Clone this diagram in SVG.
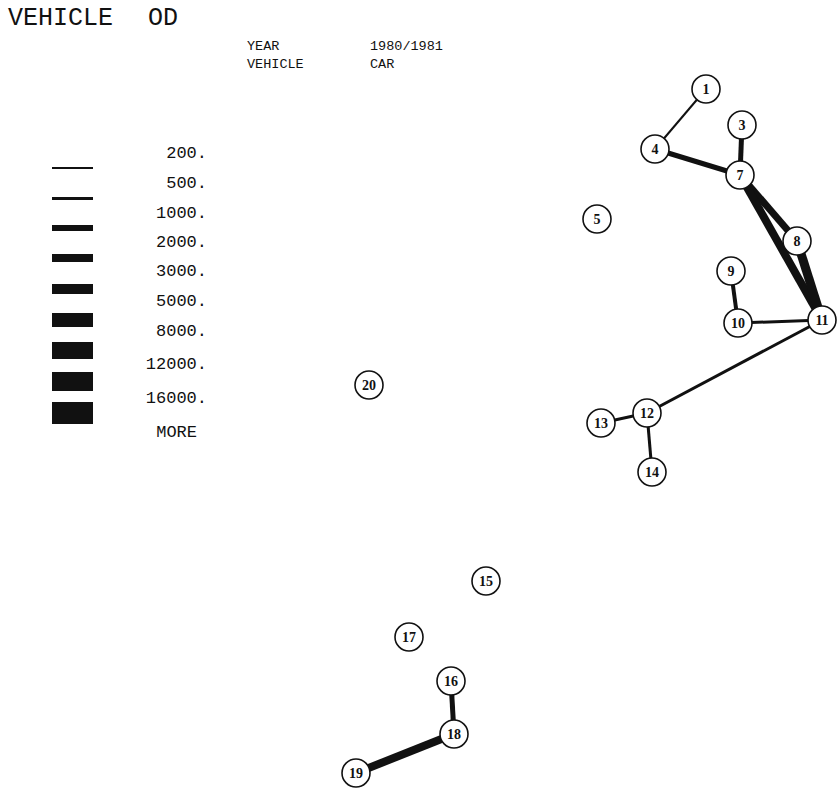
<svg xmlns="http://www.w3.org/2000/svg" width="840" height="793" viewBox="0 0 840 793">
<style>
.t{font-family:"Liberation Mono","DejaVu Sans Mono",monospace;fill:#111}
.lg{font-family:"Liberation Mono","DejaVu Sans Mono",monospace;font-size:17px;fill:#111;text-anchor:end;dominant-baseline:central}
.n circle{fill:#fff;stroke:#111;stroke-width:1.6}
.n text{font-family:"Liberation Serif","DejaVu Serif",serif;font-size:14px;font-weight:bold;fill:#111;text-anchor:middle;dominant-baseline:central}
.e line{stroke:#111;stroke-linecap:butt}
.bar{fill:#111}
</style>
<rect width="840" height="793" fill="#fff"/>
<g id="header">
<text class="t" x="8" y="25" font-size="25">VEHICLE</text>
<text class="t" x="148" y="25" font-size="25">OD</text>
<text class="t" x="247" y="50" font-size="13.5">YEAR</text>
<text class="t" x="370" y="50" font-size="13.5">1980/1981</text>
<text class="t" x="247" y="68" font-size="13.5">VEHICLE</text>
<text class="t" x="370" y="68" font-size="13.5">CAR</text>
</g>
<g id="legend">
<text class="lg" x="207" y="153">200.</text>
<text class="lg" x="207" y="183">500.</text>
<text class="lg" x="207" y="213">1000.</text>
<text class="lg" x="207" y="242">2000.</text>
<text class="lg" x="207" y="271">3000.</text>
<text class="lg" x="207" y="301">5000.</text>
<text class="lg" x="207" y="331">8000.</text>
<text class="lg" x="207" y="364">12000.</text>
<text class="lg" x="207" y="398">16000.</text>
<text class="lg" x="197" y="432">MORE</text>
<rect class="bar" x="52" y="167" width="41" height="2"/>
<rect class="bar" x="52" y="197" width="41" height="3"/>
<rect class="bar" x="52" y="225" width="41" height="6"/>
<rect class="bar" x="52" y="254" width="41" height="8"/>
<rect class="bar" x="52" y="284" width="41" height="10"/>
<rect class="bar" x="52" y="313" width="41" height="14"/>
<rect class="bar" x="52" y="342" width="41" height="17"/>
<rect class="bar" x="52" y="372" width="41" height="19"/>
<rect class="bar" x="52" y="402" width="41" height="22"/>
</g>
<g id="connectors" class="e">
<line x1="706" y1="89" x2="655" y2="149" stroke-width="2"/>
<line x1="655" y1="149" x2="740" y2="175" stroke-width="5"/>
<line x1="742" y1="125" x2="740" y2="175" stroke-width="5"/>
<line x1="740" y1="175" x2="797" y2="241" stroke-width="7"/>
<line x1="740" y1="175" x2="822" y2="320" stroke-width="8"/>
<line x1="797" y1="241" x2="822" y2="320" stroke-width="9"/>
<line x1="731" y1="271" x2="738" y2="323" stroke-width="4"/>
<line x1="738" y1="323" x2="822" y2="320" stroke-width="3"/>
<line x1="822" y1="320" x2="647" y2="413" stroke-width="3"/>
<line x1="647" y1="413" x2="601" y2="423" stroke-width="3"/>
<line x1="647" y1="413" x2="652" y2="472" stroke-width="3"/>
<line x1="451" y1="681" x2="454" y2="734" stroke-width="5"/>
<line x1="454" y1="734" x2="356" y2="773" stroke-width="8"/>
</g>
<g id="n1" class="n"><circle cx="706" cy="89" r="14"/><text x="706" y="89">1</text></g>
<g id="n3" class="n"><circle cx="742" cy="125" r="14"/><text x="742" y="125">3</text></g>
<g id="n4" class="n"><circle cx="655" cy="149" r="14"/><text x="655" y="149">4</text></g>
<g id="n7" class="n"><circle cx="740" cy="175" r="14"/><text x="740" y="175">7</text></g>
<g id="n5" class="n"><circle cx="597" cy="219" r="14"/><text x="597" y="219">5</text></g>
<g id="n8" class="n"><circle cx="797" cy="241" r="14"/><text x="797" y="241">8</text></g>
<g id="n9" class="n"><circle cx="731" cy="271" r="14"/><text x="731" y="271">9</text></g>
<g id="n10" class="n"><circle cx="738" cy="323" r="14"/><text x="738" y="323">10</text></g>
<g id="n11" class="n"><circle cx="822" cy="320" r="14"/><text x="822" y="320">11</text></g>
<g id="n12" class="n"><circle cx="647" cy="413" r="14"/><text x="647" y="413">12</text></g>
<g id="n13" class="n"><circle cx="601" cy="423" r="14"/><text x="601" y="423">13</text></g>
<g id="n14" class="n"><circle cx="652" cy="472" r="14"/><text x="652" y="472">14</text></g>
<g id="n20" class="n"><circle cx="369" cy="385" r="14"/><text x="369" y="385">20</text></g>
<g id="n15" class="n"><circle cx="486" cy="581" r="14"/><text x="486" y="581">15</text></g>
<g id="n17" class="n"><circle cx="409" cy="637" r="14"/><text x="409" y="637">17</text></g>
<g id="n16" class="n"><circle cx="451" cy="681" r="14"/><text x="451" y="681">16</text></g>
<g id="n18" class="n"><circle cx="454" cy="734" r="14"/><text x="454" y="734">18</text></g>
<g id="n19" class="n"><circle cx="356" cy="773" r="14"/><text x="356" y="773">19</text></g>
</svg>
